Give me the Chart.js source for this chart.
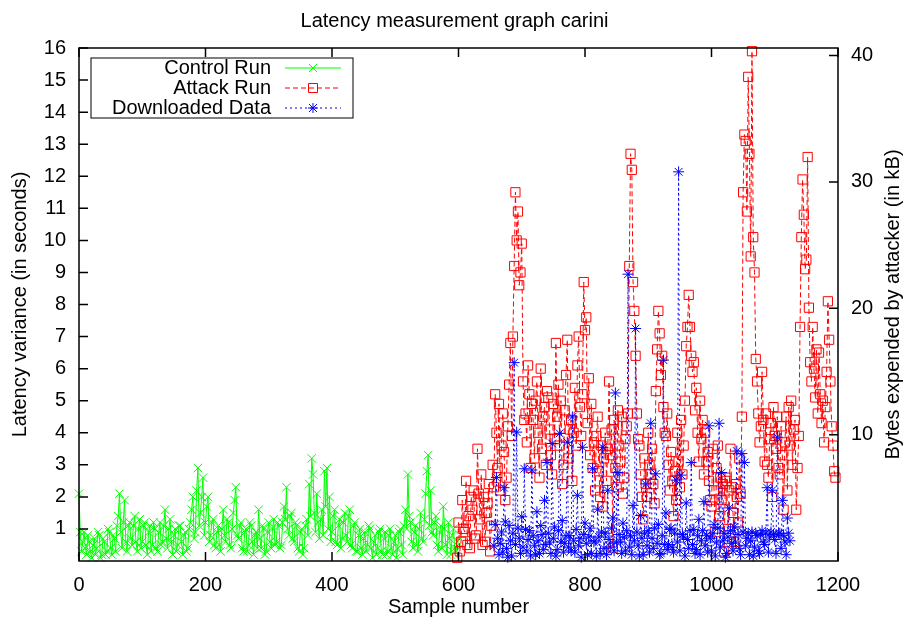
<!DOCTYPE html>
<html>
<head>
<meta charset="utf-8">
<title>Latency measurement graph carini</title>
<script src="https://cdn.jsdelivr.net/npm/chart.js@4.4.1/dist/chart.umd.min.js"></script>
<style>
    html, body{margin:0; padding:0; background:#fff;}
    #chartBox{width:909px; height:625px;}
</style>
</head>
<body>
<div id="chartBox"><canvas id="myChart" width="909" height="625"></canvas></div>

<script>
    // sample numbers: start + i * step
    var controlStart = 0, controlStep = 2;
    var controlRun = [
        2.1, 0.9, 0.3, 0.6, 0.9, 0.4, 0.2, 0.8, 0.6, 0.3, 0.1, 0.5, 0.7, 0.2, 0.4, 0.9, 0.8, 0.1, 0.2, 0.7,
        0.6, 0.2, 0.3, 1.0, 0.9, 0.4, 0.2, 0.8, 0.7, 0.3, 1.1, 1.4, 2.1, 0.9, 0.4, 1.2, 1.9, 0.6, 0.3, 1.1,
        1.2, 0.7, 0.5, 1.1, 1.4, 0.6, 0.3, 1.0, 1.3, 0.4, 0.6, 1.1, 1.2, 0.5, 0.2, 0.9, 1.1, 0.3, 0.5, 1.2,
        1.0, 0.4, 0.3, 0.9, 1.2, 0.5, 0.6, 1.1, 1.6, 0.7, 0.4, 1.0, 1.3, 0.6, 0.2, 0.8, 1.0, 0.3, 0.5, 1.1,
        1.1, 0.6, 0.2, 0.8, 0.9, 0.3, 0.4, 1.0, 1.2, 1.6, 2.0, 0.7, 0.9, 2.2, 2.9, 1.1, 1.5, 2.0, 2.6, 0.8,
        1.2, 1.7, 2.0, 0.6, 0.8, 1.2, 1.3, 0.5, 0.4, 0.9, 1.1, 0.5, 0.3, 1.0, 1.6, 0.8, 0.6, 1.3, 1.2, 0.5,
        0.4, 1.0, 1.5, 1.9, 2.3, 0.8, 0.7, 1.1, 1.2, 0.4, 0.3, 0.9, 1.0, 0.3, 0.5, 1.2, 1.1, 0.6, 0.2, 0.8,
        0.9, 0.4, 1.6, 0.7, 0.4, 1.1, 1.0, 0.2, 0.3, 0.9, 1.2, 0.6, 0.4, 1.0, 1.3, 0.5, 0.6, 1.2, 1.1, 0.4,
        0.5, 1.2, 1.7, 1.3, 2.3, 1.0, 0.8, 1.4, 1.5, 0.7, 0.6, 1.2, 1.1, 0.4, 0.3, 0.9, 1.0, 0.2, 0.4, 1.1,
        1.3, 0.8, 2.4, 1.4, 3.2, 2.7, 1.5, 0.9, 2.1, 1.2, 0.7, 1.3, 1.6, 0.8, 2.8, 1.7, 2.9, 1.0, 2.0, 0.6,
        0.9, 1.4, 1.6, 0.6, 0.5, 1.1, 1.3, 0.4, 0.7, 1.2, 1.5, 0.8, 0.6, 1.4, 1.6, 0.5, 0.4, 1.1, 1.2, 0.3,
        0.3, 0.8, 1.0, 0.4, 0.2, 0.7, 0.9, 0.3, 0.5, 1.1, 1.0, 0.4, 0.1, 0.6, 0.8, 0.2, 0.4, 0.9, 1.0, 0.3,
        0.2, 0.7, 0.9, 0.2, 0.3, 0.8, 1.0, 0.4, 0.2, 0.6, 0.8, 0.1, 0.4, 0.9, 1.0, 0.5, 0.2, 1.1, 1.6, 1.0,
        2.7, 1.4, 1.2, 0.6, 0.4, 0.9, 1.1, 0.5, 0.3, 1.0, 1.5, 0.7, 0.6, 1.3, 2.1, 2.8, 3.3, 1.1, 2.2, 0.9,
        0.8, 1.2, 1.4, 0.5, 0.3, 0.9, 1.1, 0.4, 1.7, 1.0, 0.5, 0.2, 1.2, 0.7, 0.2, 0.8, 1.0, 0.4, 0.3, 0.6
    ];

    var attackStart = 598, attackStep = 2;
    var attackRun = [
        0.1, 1.2, 0.3, 0.6, 1.9, 1.0, 0.9, 2.5, 0.5, 1.4, 0.4, 2.0, 1.6, 2.2, 0.7,
        0.8, 3.5, 2.1, 1.3, 2.7, 0.5, 2.0, 0.6, 1.5, 1.8, 2.4, 0.3, 1.1, 3.0, 2.3,
        5.2, 4.0, 2.9, 4.9, 2.2, 3.6, 4.6, 3.4, 1.9, 2.6, 4.2, 5.5, 6.8, 3.9, 7.0,
        9.2, 11.5, 10.0, 10.9, 8.6, 9.0, 9.9, 5.6, 4.4, 4.6, 3.7, 6.1, 5.2, 2.9, 4.9,
        4.4, 3.2, 5.0, 5.6, 4.0, 2.6, 6.0, 3.5, 4.5, 4.8, 3.0, 5.3, 5.1, 4.1, 3.3,
        2.7, 4.9, 3.8, 6.8, 4.5, 5.5, 3.6, 5.0, 2.4, 3.0, 4.7, 5.8, 6.9, 3.2, 4.1,
        4.4, 2.5, 4.0, 5.4, 3.6, 6.1, 7.0, 4.8, 3.9, 5.2, 8.7, 7.2, 7.6, 4.3, 5.7,
        3.3, 4.9, 2.9, 3.7, 2.2, 3.9, 4.5, 2.8, 2.0, 3.6, 1.7, 3.2, 4.0, 2.5, 3.5,
        5.6, 3.3, 4.1, 0.4, 4.4, 2.9, 2.3, 4.7, 3.6, 3.1, 4.5, 2.1, 2.6, 3.8, 4.2,
        4.6, 9.2, 12.7, 12.2, 8.7, 7.8, 6.4, 4.6, 3.8, 3.6, 2.7, 2.0, 1.3, 3.2, 2.4,
        2.0, 4.0, 3.0, 2.7, 3.5, 2.4, 1.8, 5.3, 6.6, 7.8, 7.1, 5.8, 6.4, 4.8, 4.0,
        3.9, 4.6, 3.0, 2.2, 3.4, 2.5, 1.4, 2.8, 1.9, 4.0, 3.1, 2.3, 4.4, 2.7, 3.6,
        5.0, 6.7, 7.3, 8.3, 7.3, 6.4, 5.9, 6.2, 4.7, 5.4, 4.0, 3.1, 5.0, 3.8, 4.4,
        2.7, 4.0, 3.1, 3.4, 2.5, 1.9, 1.7, 3.5, 2.2, 0.9, 2.9, 3.6, 1.4, 2.6, 1.9,
        2.4, 0.3, 2.6, 2.5, 1.0, 2.2, 3.5, 2.3, 1.5, 0.6, 2.4, 2.0, 1.2, 3.2, 2.1,
        4.5, 11.5, 13.3, 13.1, 10.9, 15.1, 12.7, 9.5, 15.9, 10.1, 9.0, 6.3, 5.6, 4.6, 3.7,
        4.2, 5.9, 4.4, 3.1, 4.6, 3.0, 2.6, 3.8, 4.3, 2.0, 4.8, 3.9, 3.5, 4.5, 2.9,
        2.7, 4.2, 3.3, 1.6, 3.7, 4.5, 2.2, 4.8, 3.6, 5.0, 3.0, 4.1, 4.4, 1.6, 2.9,
        3.9, 7.3, 10.1, 11.9, 10.8, 9.1, 9.4, 12.6, 7.9, 6.2, 5.6, 7.3, 6.0, 5.1, 6.6,
        4.6, 6.5, 5.2, 4.3, 5.0, 3.7, 4.8, 5.9, 8.1, 6.9, 5.6, 4.2, 3.6, 2.8, 2.6
    ];

    // kB, right axis
    var downloadStart = 656, downloadStep = 2;
    var downloadedData = [
        1.2, 2.9, 6.6, 1.8, 0.5, 1.4, 2.3, 0.7, 5.8, 3.1, 1.0, 0.3, 2.8, 1.6, 0.4, 2.2, 15.7, 1.3, 10.2, 2.6,
        1.8, 0.6, 3.5, 1.1, 7.3, 2.5, 0.8, 1.7, 2.4, 0.4, 7.2, 2.0, 1.2, 0.5, 3.9, 1.6, 0.6, 2.8, 2.1, 0.9,
        4.8, 1.3, 7.8, 2.2, 1.5, 0.6, 9.3, 1.8, 2.7, 0.4, 0.9, 2.4, 10.1, 1.5, 3.2, 0.7, 1.4, 2.0, 9.4, 1.1,
        2.0, 0.8, 11.4, 1.6, 0.7, 2.5, 5.2, 1.2, 1.8, 0.3, 9.0, 2.1, 3.0, 1.4, 0.5, 1.9, 2.6, 0.6, 7.3, 1.5,
        1.6, 0.4, 4.1, 1.9, 0.6, 2.3, 9.0, 1.0, 2.2, 0.5, 5.6, 1.7, 1.1, 2.6, 3.4, 0.8, 13.3, 1.5, 7.0, 2.1,
        1.5, 0.6, 3.0, 1.9, 0.8, 2.4, 22.7, 1.1, 2.0, 0.5, 4.4, 1.6, 18.4, 2.3, 1.2, 0.4, 3.6, 1.8, 0.5, 2.2,
        6.1, 1.2, 2.4, 0.7, 10.9, 1.8, 1.0, 2.6, 6.9, 1.4, 2.9, 0.5, 0.6, 2.0, 15.9, 1.3, 3.8, 0.9, 1.3, 2.5,
        2.6, 1.1, 0.7, 2.2, 6.4, 1.5, 30.8, 0.8, 6.8, 2.1, 1.9, 0.4, 4.6, 1.7, 1.0, 2.4, 7.8, 1.3, 2.5, 0.6,
        0.9, 2.0, 3.3, 0.5, 1.6, 2.4, 4.7, 1.2, 2.0, 0.7, 10.7, 1.8, 0.8, 2.2, 2.9, 0.4, 1.5, 2.6, 10.9, 1.1,
        7.0, 1.6, 2.2, 0.3, 0.6, 1.9, 4.2, 2.4, 1.4, 0.8, 2.7, 1.5, 8.7, 2.1, 1.0, 0.5, 8.5, 2.3, 7.8, 1.2,
        1.8, 2.2, 0.5, 1.6, 2.3, 0.4, 1.1, 2.2, 2.0, 0.8, 0.6, 2.1, 2.4, 1.5, 1.3, 2.2, 5.8, 0.7, 1.9, 2.3,
        5.6, 2.1, 1.7, 0.6, 9.8, 2.2, 2.2, 1.0, 4.8, 2.0, 1.5, 0.5, 3.4, 2.2, 1.6
    ];

    var xTicks = [0, 200, 400, 600, 800, 1000, 1200];
    var yTicks = [1, 2, 3, 4, 5, 6, 7, 8, 9, 10, 11, 12, 13, 14, 15, 16];
    var y2Ticks = [10, 20, 30, 40];

    var FONT = '"Liberation Sans", Arial, sans-serif';

    function toPoints(start, step, values){
        var pts = [];
        for(var i = 0; i < values.length; i++){
            pts.push({x: start + i * step, y: values[i]});
        }
        return pts;
    }

    function marker(ctx, style, x, y){
        ctx.beginPath();
        if(style == 'x' || style == '*'){
            ctx.moveTo(x - 4, y - 4); ctx.lineTo(x + 4, y + 4);
            ctx.moveTo(x - 4, y + 4); ctx.lineTo(x + 4, y - 4);
        }
        if(style == '*'){
            ctx.moveTo(x - 5, y); ctx.lineTo(x + 5, y);
            ctx.moveTo(x, y - 5); ctx.lineTo(x, y + 5);
        }
        if(style == 'sq'){
            ctx.rect(x - 4.5, y - 4.5, 9, 9);
        }
        ctx.stroke();
    }

    // box, inward ticks, right axis title and the key
    var framePlugin = {
        id: 'frame',
        afterDatasetsDraw: function(chart){
            var ctx = chart.ctx, a = chart.chartArea;
            var sx = chart.scales.x, sy = chart.scales.y, sy2 = chart.scales.y2;
            ctx.save();
            ctx.strokeStyle = '#000';
            ctx.lineWidth = 1.5;
            ctx.setLineDash([]);
            ctx.strokeRect(a.left, a.top, a.right - a.left, a.bottom - a.top);
            ctx.beginPath();
            xTicks.forEach(function(v){
                var px = sx.getPixelForValue(v);
                ctx.moveTo(px, a.bottom); ctx.lineTo(px, a.bottom - 9);
                ctx.moveTo(px, a.top); ctx.lineTo(px, a.top + 9);
            });
            yTicks.forEach(function(v){
                var py = sy.getPixelForValue(v);
                ctx.moveTo(a.left, py); ctx.lineTo(a.left + 9, py);
            });
            y2Ticks.forEach(function(v){
                var py = sy2.getPixelForValue(v);
                ctx.moveTo(a.right, py); ctx.lineTo(a.right - 9, py);
            });
            ctx.stroke();

            ctx.fillStyle = '#000';
            ctx.font = '20px ' + FONT;
            ctx.save();
            ctx.translate(893, (a.top + a.bottom) / 2);
            ctx.rotate(-Math.PI / 2);
            ctx.textAlign = 'center';
            ctx.textBaseline = 'middle';
            ctx.fillText('Bytes expended by attacker (in kB)', 0, 0);
            ctx.restore();

            // key
            ctx.fillStyle = '#fff';
            ctx.fillRect(91, 58, 262, 60);
            ctx.lineWidth = 1;
            ctx.strokeStyle = '#000';
            ctx.strokeRect(91, 58, 262, 60);
            var rows = [
                {t: 'Control Run', c: '#00ff00', d: [], m: 'x'},
                {t: 'Attack Run', c: '#ff0000', d: [5, 3], m: 'sq'},
                {t: 'Downloaded Data', c: '#0000ff', d: [2, 3], m: '*'}
            ];
            ctx.textAlign = 'right';
            ctx.textBaseline = 'middle';
            rows.forEach(function(r, i){
                var y = 68 + i * 20;
                ctx.fillStyle = '#000';
                ctx.fillText(r.t, 271, y);
                ctx.strokeStyle = r.c;
                ctx.lineWidth = 1;
                ctx.setLineDash(r.d);
                ctx.beginPath(); ctx.moveTo(285, y); ctx.lineTo(341, y); ctx.stroke();
                ctx.setLineDash([]);
                marker(ctx, r.m, 313, y);
            });
            ctx.restore();
        }
    };

    var tickFont = {family: FONT, size: 20, weight: 'normal'};

    new Chart(document.getElementById('myChart').getContext('2d'), {
        type: 'line',
        data: {
            datasets: [
                {
                    label: 'Control Run',
                    data: toPoints(controlStart, controlStep, controlRun),
                    yAxisID: 'y',
                    borderColor: '#00ff00',
                    borderWidth: 1,
                    pointStyle: 'crossRot',
                    pointRadius: 6,
                    pointBorderColor: '#00ff00',
                    pointBorderWidth: 1,
                    pointBackgroundColor: 'rgba(0,0,0,0)',
                    fill: false,
                    tension: 0,
                    clip: false,
                    order: 3
                },
                {
                    label: 'Attack Run',
                    data: toPoints(attackStart, attackStep, attackRun),
                    yAxisID: 'y',
                    borderColor: '#ff0000',
                    borderWidth: 1,
                    borderDash: [5, 3],
                    pointStyle: 'rect',
                    pointRadius: 6.5,
                    pointBorderColor: '#ff0000',
                    pointBorderWidth: 1,
                    pointBackgroundColor: 'rgba(0,0,0,0)',
                    fill: false,
                    tension: 0,
                    clip: false,
                    order: 2
                },
                {
                    label: 'Downloaded Data',
                    data: toPoints(downloadStart, downloadStep, downloadedData),
                    yAxisID: 'y2',
                    borderColor: '#0000ff',
                    borderWidth: 1,
                    borderDash: [2, 3],
                    pointStyle: 'star',
                    pointRadius: 5.5,
                    pointBorderColor: '#0000ff',
                    pointBorderWidth: 1,
                    pointBackgroundColor: 'rgba(0,0,0,0)',
                    fill: false,
                    tension: 0,
                    clip: false,
                    order: 1
                }
            ]
        },
        options: {
            responsive: false,
            animation: false,
            devicePixelRatio: 1,
            layout: {padding: 0},
            plugins: {
                legend: {display: false},
                tooltip: {enabled: false},
                title: {
                    display: true,
                    text: 'Latency measurement graph carini',
                    color: '#000',
                    font: tickFont,
                    padding: {top: 9, bottom: 15}
                }
            },
            scales: {
                x: {
                    type: 'linear',
                    min: 0, max: 1200,
                    grid: {display: false, drawTicks: false},
                    border: {display: false},
                    ticks: {
                        stepSize: 200, padding: 12, color: '#000', font: tickFont, maxRotation: 0,
                        callback: function(v){ return String(v); }
                    },
                    title: {display: true, text: 'Sample number', color: '#000', font: tickFont, padding: {top: 0, bottom: 6}},
                    afterFit: function(s){ s.height = 64; }
                },
                y: {
                    position: 'left',
                    min: 0, max: 16,
                    grid: {display: false, drawTicks: false},
                    border: {display: false},
                    ticks: {stepSize: 1, padding: 13, color: '#000', font: tickFont},
                    afterBuildTicks: function(s){ s.ticks = yTicks.map(function(v){ return {value: v}; }); },
                    title: {display: true, text: 'Latency variance (in seconds)', color: '#000', font: tickFont, padding: {top: 8, bottom: 0}},
                    afterFit: function(s){ s.width = 79; }
                },
                y2: {
                    position: 'right',
                    min: 0, max: 40.6,
                    grid: {display: false, drawTicks: false},
                    border: {display: false},
                    ticks: {padding: 13, color: '#000', font: tickFont},
                    afterBuildTicks: function(s){ s.ticks = y2Ticks.map(function(v){ return {value: v}; }); },
                    afterFit: function(s){ s.width = 71; }
                }
            }
        },
        plugins: [framePlugin]
    });
</script>
</body>
</html>
